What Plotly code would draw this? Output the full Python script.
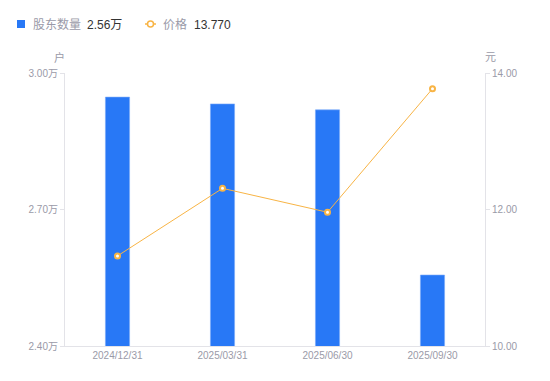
import plotly.graph_objects as go

dates = ["2024/12/31", "2025/03/31", "2025/06/30", "2025/09/30"]
holders = [2.947, 2.932, 2.919, 2.556]   # 万户
price = [11.32, 12.31, 11.96, 13.77]     # 元
left_ticks = [2.40, 2.70, 3.00]
left_tick_text = ["2.40万", "2.70万", "3.00万"]
right_ticks = [10, 12, 14]
right_tick_text = ["10.00", "12.00", "14.00"]
legend_names = ["股东数量", "价格"]
legend_values = ["2.56万", "13.770"]

BLUE = "#2878f6"
ORANGE = "#f8b445"
GRAY = "#9a9aa8"
DARK = "#333333"
LINE = "#e3e3e8"
FONT = "Liberation Sans, Arial, Noto Sans CJK SC"

W, H = 550, 381
ML, MR, MT, MB = 65, 65, 73, 35
PW, PH = W - ML - MR, H - MT - MB


def px(x):
    return (x - ML) / PW


def py(y):
    return (H - MB - y) / PH


fig = go.Figure()
fig.add_trace(go.Bar(x=dates, y=holders, yaxis="y", name=legend_names[0], showlegend=False,
                     marker=dict(color=BLUE, line=dict(color="#7aaaf8", width=0.6))))
fig.add_trace(go.Scatter(
    x=dates, y=price, yaxis="y2", mode="lines+markers", name=legend_names[1], showlegend=False,
    line=dict(color=ORANGE, width=1),
    marker=dict(symbol="circle", size=5, color="white", line=dict(color=ORANGE, width=2)),
))

axis_common = dict(showgrid=False, zeroline=False, showline=True, linecolor=LINE,
                   linewidth=1, ticks="outside", ticklen=4, tickcolor=LINE,
                   tickfont=dict(size=10, color=GRAY, family=FONT))

ann = [
    dict(text="户", x=px(59), y=py(57), xanchor="center", yanchor="middle",
         font=dict(size=11, color=GRAY, family=FONT)),
    dict(text="元", x=px(490), y=py(57), xanchor="center", yanchor="middle",
         font=dict(size=11, color=GRAY, family=FONT)),
    dict(text=legend_names[0], x=px(31), y=py(25), xanchor="left", yanchor="middle",
         font=dict(size=12, color=GRAY, family=FONT)),
    dict(text=legend_values[0], x=px(85), y=py(25), xanchor="left", yanchor="middle",
         font=dict(size=12, color=DARK, family=FONT)),
    dict(text=legend_names[1], x=px(161), y=py(25), xanchor="left", yanchor="middle",
         font=dict(size=12, color=GRAY, family=FONT)),
    dict(text=legend_values[1], x=px(192), y=py(25), xanchor="left", yanchor="middle",
         font=dict(size=12, color=DARK, family=FONT)),
]
for a in ann:
    a.update(xref="paper", yref="paper", showarrow=False)

shapes = [
    dict(type="rect", x0=px(17), x1=px(25), y0=py(20), y1=py(28), fillcolor=BLUE,
         line=dict(width=0)),
    dict(type="line", x0=px(145), x1=px(156), y0=py(24), y1=py(24),
         line=dict(color=ORANGE, width=1.5)),
    dict(type="circle", x0=px(147.5), x1=px(153.5), y0=py(21), y1=py(27), fillcolor="white",
         line=dict(color=ORANGE, width=1.5)),
]
for s in shapes:
    s.update(xref="paper", yref="paper")

fig.update_layout(
    width=W, height=H,
    margin=dict(l=ML, r=MR, t=MT, b=MB),
    plot_bgcolor="white", paper_bgcolor="white",
    font=dict(family=FONT, size=12, color=GRAY),
    bargap=0.77,
    showlegend=False,
    xaxis=dict(type="category", showgrid=False, zeroline=False, showline=True,
               linecolor=LINE, ticks="", tickfont=dict(size=10, color=GRAY, family=FONT)),
    yaxis=dict(range=[2.40, 3.00], tickvals=left_ticks, ticktext=left_tick_text, side="left",
               **axis_common),
    yaxis2=dict(range=[10, 14], tickvals=right_ticks, ticktext=right_tick_text, side="right",
                overlaying="y", **axis_common),
    annotations=ann,
    shapes=shapes,
)

fig.write_html("out.html", config={"displayModeBar": False},
               post_script="document.body.style.margin='0';")
